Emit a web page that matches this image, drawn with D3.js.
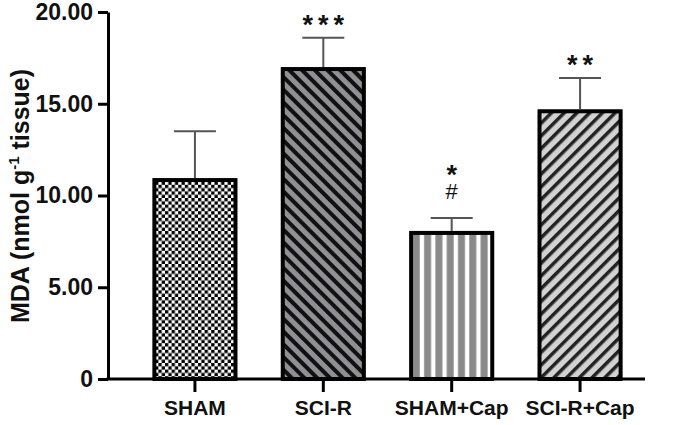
<!DOCTYPE html>
<html>
<head>
<meta charset="utf-8">
<script src="https://cdn.jsdelivr.net/npm/d3@7"></script>
<style>
  body { margin: 0; background: #fff; }
  text { font-family: "Liberation Sans", Arial, sans-serif; }
</style>
</head>
<body>
<svg id="chart" width="673" height="425"></svg>
<script>
// Données
const GROUPS = ["SHAM", "SCI-R", "SHAM+Cap", "SCI-R+Cap"];
const MEANS = [10.95, 17.0, 8.07, 14.7];
const ERRORS = [2.55, 1.6, 0.7, 1.7];
const STARS = ["", "***", "*", "**"];
const HASHES = ["", "", "#", ""];
const Y_TICKS = [0, 5, 10, 15, 20];
const Y_TICK_LABELS = ["0", "5.00", "10.00", "15.00", "20.00"];
const FILLS = ["url(#checker)", "url(#diagDark)", "url(#vstripe)", "url(#diagLight)"];

const SVG = d3.select("#chart");
const WIDTH = 673, HEIGHT = 425;

SVG.append("rect").attr("width", WIDTH).attr("height", HEIGHT).attr("fill", "#fff");

// Échelles
const SCALE_Y = d3.scaleLinear().domain([0, 20]).range([379, 12]);
const SCALE_X = d3.scaleBand()
  .domain(GROUPS)
  .range([119, 656])
  .paddingInner(0.337)
  .paddingOuter(0.26);

// Motifs de remplissage
const DEFS = SVG.append("defs");

const CELL = 3.3;
const checker = DEFS.append("pattern").attr("id", "checker")
  .attr("patternUnits", "userSpaceOnUse").attr("width", 2 * CELL).attr("height", 2 * CELL);
checker.append("rect").attr("width", 2 * CELL).attr("height", 2 * CELL).attr("fill", "#fff");
checker.append("rect").attr("width", CELL).attr("height", CELL).attr("fill", "#000");
checker.append("rect").attr("x", CELL).attr("y", CELL).attr("width", CELL).attr("height", CELL).attr("fill", "#000");

const diagDark = DEFS.append("pattern").attr("id", "diagDark")
  .attr("patternUnits", "userSpaceOnUse").attr("width", 9).attr("height", 9)
  .attr("patternTransform", "rotate(-45)");
diagDark.append("rect").attr("width", 9).attr("height", 9).attr("fill", "#8f8f94");
diagDark.append("rect").attr("width", 4).attr("height", 9).attr("fill", "#111");

const diagLight = DEFS.append("pattern").attr("id", "diagLight")
  .attr("patternUnits", "userSpaceOnUse").attr("width", 9).attr("height", 9)
  .attr("patternTransform", "rotate(45)");
diagLight.append("rect").attr("width", 9).attr("height", 9).attr("fill", "#d2d2d2");
diagLight.append("rect").attr("width", 3.5).attr("height", 9).attr("fill", "#222");

const vstripe = DEFS.append("pattern").attr("id", "vstripe")
  .attr("patternUnits", "userSpaceOnUse").attr("width", 11.3).attr("height", 10)
  .attr("x", 2);
vstripe.append("rect").attr("width", 11.3).attr("height", 10).attr("fill", "#fff");
vstripe.append("rect").attr("x", 4).attr("width", 7).attr("height", 10).attr("fill", "#8a8a8a");

// Barres
const BAR_STROKE = 4;
SVG.selectAll("rect.bar")
  .data(GROUPS)
  .enter()
  .append("rect")
  .attr("class", "bar")
  .attr("x", d => SCALE_X(d) + BAR_STROKE / 2)
  .attr("y", (d, i) => SCALE_Y(MEANS[i]) + BAR_STROKE / 2)
  .attr("width", SCALE_X.bandwidth() - BAR_STROKE)
  .attr("height", (d, i) => SCALE_Y(0) - SCALE_Y(MEANS[i]) - BAR_STROKE / 2)
  .attr("fill", (d, i) => FILLS[i])
  .attr("stroke", "#000")
  .attr("stroke-width", BAR_STROKE);

// Barres d'erreur et marques de significativité
const CAP = 21;
GROUPS.forEach((g, i) => {
  const cx = SCALE_X(g) + SCALE_X.bandwidth() / 2;
  const yTop = SCALE_Y(MEANS[i] + ERRORS[i]);
  SVG.append("line")
    .attr("x1", cx).attr("x2", cx)
    .attr("y1", SCALE_Y(MEANS[i])).attr("y2", yTop)
    .attr("stroke", "#555").attr("stroke-width", 2);
  SVG.append("line")
    .attr("x1", cx - CAP).attr("x2", cx + CAP)
    .attr("y1", yTop).attr("y2", yTop)
    .attr("stroke", "#555").attr("stroke-width", 2);

  if (!STARS[i]) return;
  // une seule étiquette, sur une ou deux lignes (étoiles puis dièse)
  const mark = SVG.append("text")
    .attr("text-anchor", "middle")
    .attr("fill", "#111");
  mark.append("tspan")
    .attr("x", cx + 2.5)
    .attr("y", HASHES[i] ? yTop - 34 : yTop - 4)
    .attr("font-size", 27)
    .attr("font-weight", "bold")
    .attr("letter-spacing", 5)
    .text(STARS[i]);
  if (HASHES[i]) {
    mark.append("tspan")
      .attr("x", cx)
      .attr("y", yTop - 19)
      .attr("font-size", 22)
      .text(HASHES[i]);
  }
});

// Axe Y
const AXIS_Y = d3.axisLeft(SCALE_Y)
  .tickValues(Y_TICKS)
  .tickFormat((d, i) => Y_TICK_LABELS[i])
  .tickSize(10)
  .tickSizeOuter(0)
  .tickPadding(5);
const gy = SVG.append("g").attr("transform", "translate(108,0)").call(AXIS_Y);
gy.select(".domain").attr("stroke", "#000").attr("stroke-width", 3);
gy.selectAll(".tick line").attr("stroke", "#000").attr("stroke-width", 3);
gy.selectAll(".tick text")
  .attr("font-family", "Liberation Sans, Arial, sans-serif")
  .attr("font-size", 23).attr("font-weight", "bold").attr("fill", "#111");

// Axe X
const AXIS_X = d3.axisBottom(SCALE_X).tickSize(13).tickSizeOuter(0).tickPadding(8);
const gx = SVG.append("g").attr("transform", "translate(0,379)").call(AXIS_X);
gx.select(".domain").remove();
gx.append("line").attr("x1", 106.5).attr("x2", 645).attr("stroke", "#000").attr("stroke-width", 3);
gx.selectAll(".tick line").attr("stroke", "#000").attr("stroke-width", 3);
gx.selectAll(".tick text")
  .attr("font-family", "Liberation Sans, Arial, sans-serif")
  .attr("font-size", 21).attr("font-weight", "bold").attr("fill", "#111");

// Titre de l'axe Y
const label = SVG.append("text")
  .attr("transform", "translate(29,196) rotate(-90)")
  .attr("text-anchor", "middle")
  .attr("font-size", 25)
  .attr("font-weight", "bold")
  .attr("fill", "#111");
label.append("tspan").text("MDA (nmol g");
label.append("tspan").attr("dy", -10).attr("font-size", 15).text("-1");
label.append("tspan").attr("dy", 10).text(" tissue)");
</script>
</body>
</html>
